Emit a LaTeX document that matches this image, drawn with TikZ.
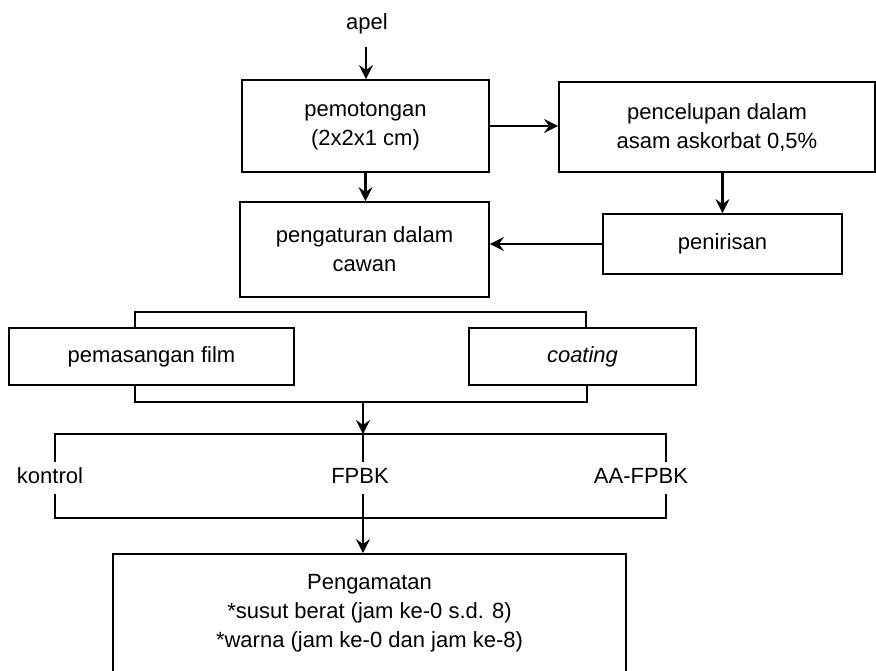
\documentclass[tikz,border=0pt]{standalone}
\usepackage{fontspec}
\setmainfont{Liberation Sans}
\usetikzlibrary{arrows.meta}
\begin{document}
\begin{tikzpicture}[x=1pt,y=-1pt,
  every node/.style={font=\fontsize{22}{29}\selectfont, align=center},
  box/.style={draw, line width=1.9pt, inner sep=0pt},
  lbl/.style={inner sep=0pt, text height=16pt, text depth=5pt, minimum height=32pt},
  flow/.style={line width=2.2pt, -{Stealth[length=14pt,width=14pt,inset=5pt]}},
  brk/.style={line width=1.5pt}]
\useasboundingbox (0,0) rectangle (876,671);
\clip (0,0) rectangle (876,671);
% nodes
\node (apel) at (367,24) {apel};
\node[box, minimum width=247pt, minimum height=92pt] (cut) at (365.5,126) {pemotongan\\(2x2x1 cm)};
\node[box, minimum width=316pt, minimum height=90pt] (dip) at (717,127) {pencelupan dalam\\asam askorbat 0,5\%};
\node[box, minimum width=239pt, minimum height=60pt] (drain) at (722.5,244) {penirisan};
\node[box, minimum width=249pt, minimum height=95pt] (place) at (364.5,249.5) {pengaturan dalam\\cawan};
\node[box, minimum width=285pt, minimum height=57pt] (film) at (151.5,356.5) {pemasangan film};
\node[box, minimum width=227pt, minimum height=57pt] (coat) at (582.5,356.5) {\itshape coating};
\node[lbl] (ktr) at (50,478) {kontrol};
\node[lbl] (fpbk) at (360,478) {FPBK};
\node[lbl] (aa) at (641,478) {AA-FPBK};
\node[box, minimum width=513pt, minimum height=118pt] (obs) at (369.5,613) {Pengamatan\\*susut berat (jam ke-0 s.d. 8)\\*warna (jam ke-0 dan jam ke-8)};
% coordinates of brackets
\coordinate (t1) at (135,312);
\coordinate (t2) at (586,312);
\coordinate (b1) at (135,402);
\coordinate (b2) at (587,402);
\coordinate (bm) at (363,402);
\coordinate (k1) at (55,434);
\coordinate (k2) at (666,434);
\coordinate (km) at (363,434);
\coordinate (l1) at (55,518);
\coordinate (l2) at (666,518);
\coordinate (lm) at (363,518);
\coordinate (a0) at (366,47);
% arrows
\draw[flow] (a0) -- (a0 |- cut.north);
\draw[flow] (cut.east) -- (cut.east -| dip.west);
\draw[flow] (dip.south -| drain.north) -- (drain.north);
\draw[flow] (cut.south) -- (cut.south |- place.north);
\draw[flow] (drain.west) -- (drain.west -| place.east);
% film/coating bracket
\draw[brk] (t1 |- film.north) -- (t1) -- (t2) -- (t2 |- coat.north);
\draw[brk] (b1 |- film.south) -- (b1) -- (b2) -- (b2 |- coat.south);
\draw[flow] (bm) -- (km);
% treatment bracket
\draw[brk] (k1 |- ktr.north) -- (k1) -- (k2) -- (k2 |- aa.north);
\draw[brk] (k1 |- ktr.south) -- (l1) -- (l2) -- (l2 |- aa.south);
\draw[brk] (km) -- (km |- fpbk.north);
\draw[brk] (km |- fpbk.south) -- (lm);
\draw[flow] (lm) -- (lm |- obs.north);
\end{tikzpicture}
\end{document}
